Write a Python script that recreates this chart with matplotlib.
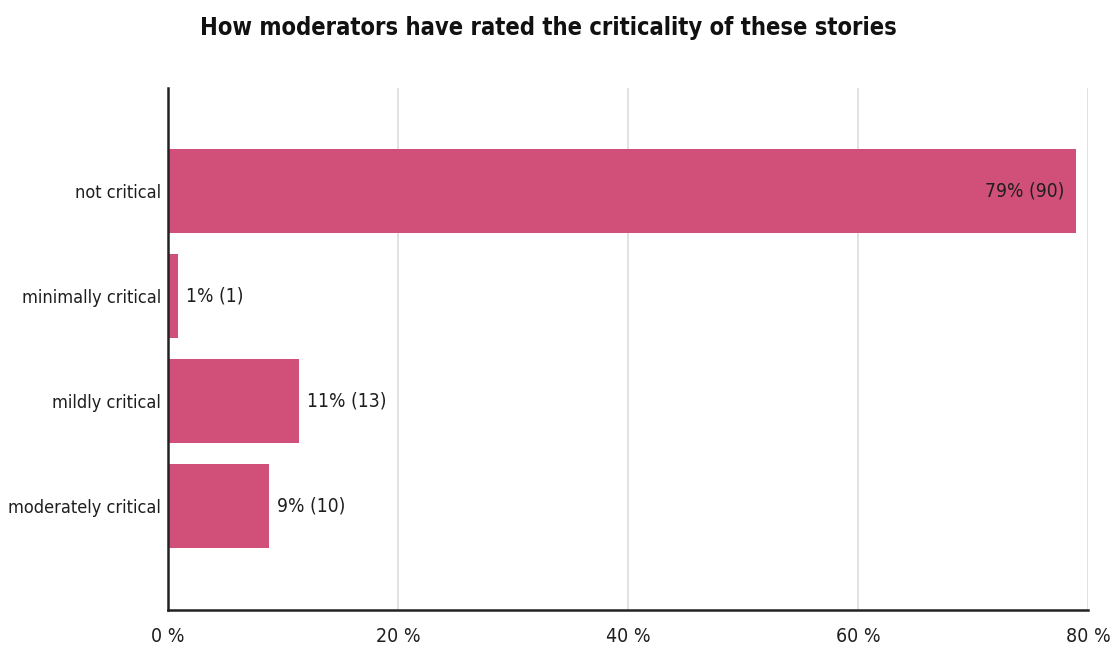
import matplotlib
matplotlib.use("Agg")
import matplotlib.pyplot as plt
from matplotlib import font_manager as fm

categories = ["not critical", "minimally critical", "mildly critical", "moderately critical"]
counts = [90, 1, 13, 10]
total = sum(counts)
percents = [c / total * 100 for c in counts]
xticks = [0, 20, 40, 60, 80]
title = "How moderators have rated the criticality of these stories"


def find_font(keys, bold):
    for f in fm.fontManager.ttflist:
        fn = f.fname.replace("\\", "/").split("/")[-1]
        if all(k in fn for k in keys):
            isbold = "Bold" in fn
            if isbold == bold and "Oblique" not in fn and "Italic" not in fn:
                return f.fname
    return None


reg_path = find_font(["DejaVuSansCondensed"], False)
bold_path = find_font(["DejaVuSansCondensed"], True)


def fp(size, bold=False):
    path = bold_path if bold else reg_path
    if path:
        return fm.FontProperties(fname=path, size=size)
    return fm.FontProperties(family="DejaVu Sans", size=size, stretch="condensed",
                             weight="bold" if bold else "normal")


fig = plt.figure(figsize=(11.19, 6.49), dpi=100)
ax = fig.add_axes([168/1119, 39/649, (1088-168)/1119, (610-88)/649])

bar_color = "#D0507A"
ypos = list(range(len(categories)))
ax.barh(ypos, percents, height=0.8, color=bar_color, zorder=2)
ax.set_ylim(3.99, -0.98)
ax.set_xlim(0, 80)
ax.set_yticks(ypos)
ax.set_yticklabels(categories, fontproperties=fp(13), color="#1e1e1e")
ax.set_xticks(xticks)
ax.set_xticklabels([f"{t} %" for t in xticks], fontproperties=fp(14), color="#1e1e1e")
ax.tick_params(axis="y", length=0, pad=5)
ax.tick_params(axis="x", length=0, pad=12)
ax.xaxis.grid(True, color="#dddddd", linewidth=1.2, zorder=0)
for s in ["top", "right"]:
    ax.spines[s].set_visible(False)
for s in ["left", "bottom"]:
    ax.spines[s].set_color("#222222")
    ax.spines[s].set_linewidth(1.8)
    ax.spines[s].set_zorder(3)

for y, p, c in zip(ypos, percents, counts):
    lab = f"{round(p)}% ({c})"
    if p > 40:
        ax.annotate(lab, (p, y), xytext=(-8, 0), textcoords="offset points",
                    ha="right", va="center", fontproperties=fp(13.8), color="#1e1e1e")
    else:
        ax.annotate(lab, (p, y), xytext=(6, 0), textcoords="offset points",
                    ha="left", va="center", fontproperties=fp(13.8), color="#1e1e1e")

fig.text(548/1119, 1 - 28/649, title, ha="center", va="center",
         fontproperties=fp(17, bold=True), color="#111111")

fig.savefig("out.png", dpi=100, facecolor="white")
